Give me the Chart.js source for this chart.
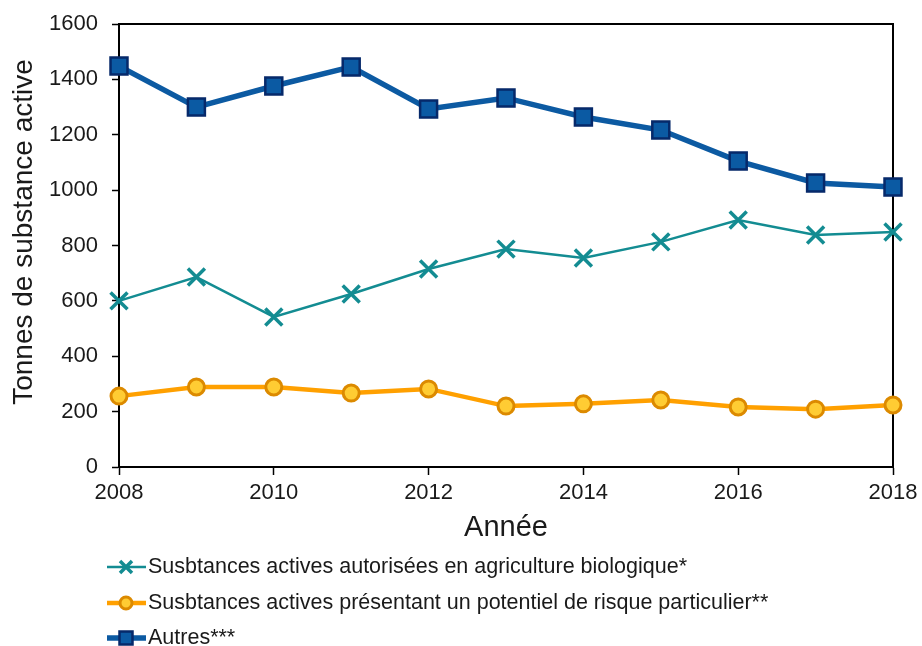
<!DOCTYPE html>
<html>
<head>
<meta charset="utf-8">
<script src="https://cdn.jsdelivr.net/npm/chart.js"></script>
<style>
html, body { margin: 0; padding: 0; background: #fff; }
#wrap { width: 922px; height: 646px; }
</style>
</head>
<body>
<div id="wrap"><canvas id="chart" width="922" height="646"></canvas></div>
<script>
// années et tonnages
const years = [2008, 2009, 2010, 2011, 2012, 2013, 2014, 2015, 2016, 2017, 2018];
const bio = [600, 686, 542, 625, 715, 787, 755, 813, 892, 838, 849];
const risque = [256, 289, 289, 267, 282, 220, 228, 242, 217, 209, 224];
const autres = [1448, 1300, 1376, 1445, 1293, 1333, 1264, 1217, 1105, 1026, 1011];
const seriesNames = [
  'Susbtances actives autorisées en agriculture biologique*',
  'Susbtances actives présentant un potentiel de risque particulier**',
  'Autres***'
];
const yTicks = [0, 200, 400, 600, 800, 1000, 1200, 1400, 1600];
const xTicks = [2008, 2010, 2012, 2014, 2016, 2018];

const FONT = 'Liberation Sans, Arial, sans-serif';
const TEXT = '#1a1a1a';

function toPoints(vals) {
  return years.map((yr, i) => ({ x: yr, y: vals[i] }));
}

// cadre haut + droite, titre vertical
const frame = {
  id: 'frame',
  beforeDatasetsDraw(chart) {
    const { ctx, chartArea: a } = chart;
    ctx.save();
    ctx.strokeStyle = '#000';
    ctx.lineWidth = 2;
    ctx.beginPath();
    ctx.moveTo(a.left, a.top);
    ctx.lineTo(a.right, a.top);
    ctx.lineTo(a.right, a.bottom);
    ctx.stroke();
    ctx.translate(24, 232);
    ctx.rotate(-Math.PI / 2);
    ctx.fillStyle = TEXT;
    ctx.font = '28px ' + FONT;
    ctx.textAlign = 'center';
    ctx.textBaseline = 'middle';
    ctx.fillText('Tonnes de substance active', 0, 0);
    ctx.restore();
  }
};

function drawMarker(ctx, style, x, y, r) {
  ctx.beginPath();
  if (style === 'rect') {
    ctx.rect(x - r, y - r, 2 * r, 2 * r);
    ctx.fill();
    ctx.stroke();
  } else if (style === 'circle') {
    ctx.arc(x, y, r, 0, Math.PI * 2);
    ctx.fill();
    ctx.stroke();
  } else {
    ctx.moveTo(x - r, y - r); ctx.lineTo(x + r, y + r);
    ctx.moveTo(x + r, y - r); ctx.lineTo(x - r, y + r);
    ctx.stroke();
  }
}

// légende verticale en bas à gauche
const sideLegend = {
  id: 'sideLegend',
  afterDraw(chart) {
    const ctx = chart.ctx;
    const rows = [567, 603, 638];
    ctx.save();
    chart.data.datasets.forEach((ds, i) => {
      const y = rows[i];
      ctx.strokeStyle = ds.borderColor;
      ctx.lineWidth = ds.borderWidth;
      ctx.beginPath();
      ctx.moveTo(107, y);
      ctx.lineTo(146, y);
      ctx.stroke();
      ctx.fillStyle = ds.pointBackgroundColor;
      ctx.strokeStyle = ds.pointBorderColor;
      ctx.lineWidth = ds.pointBorderWidth;
      drawMarker(ctx, ds.pointStyle, 126, y, ds.legendRadius);
      ctx.fillStyle = TEXT;
      ctx.font = '21.5px ' + FONT;
      ctx.textBaseline = 'middle';
      ctx.textAlign = 'left';
      ctx.fillText(seriesNames[i], 148, y);
    });
    ctx.restore();
  }
};

new Chart(document.getElementById('chart'), {
  type: 'line',
  data: {
    datasets: [
      {
        label: seriesNames[0],
        data: toPoints(bio),
        borderColor: '#138c92',
        borderWidth: 2.5,
        pointStyle: 'crossRot',
        pointRadius: 12,
        pointBorderWidth: 3.5,
        pointBorderColor: '#138c92',
        pointBackgroundColor: '#138c92',
        legendRadius: 6,
        clip: false,
        order: 3
      },
      {
        label: seriesNames[1],
        data: toPoints(risque),
        borderColor: '#ffa000',
        borderWidth: 4.5,
        pointStyle: 'circle',
        pointRadius: 8,
        pointBorderWidth: 3,
        pointBorderColor: '#dc8a00',
        pointBackgroundColor: '#ffcc33',
        legendRadius: 6,
        clip: false,
        order: 2
      },
      {
        label: seriesNames[2],
        data: toPoints(autres),
        borderColor: '#0c5aa2',
        borderWidth: 5.5,
        pointStyle: 'rect',
        pointRadius: 12,
        pointBorderWidth: 2.5,
        pointBorderColor: '#06296a',
        pointBackgroundColor: '#0b5aa3',
        legendRadius: 6.5,
        clip: false,
        order: 1
      }
    ]
  },
  options: {
    responsive: false,
    animation: false,
    layout: { padding: { top: 24, right: 29, bottom: 101, left: 45 } },
    plugins: {
      legend: { display: false },
      tooltip: { enabled: false }
    },
    scales: {
      x: {
        type: 'linear',
        min: 2008,
        max: 2018,
        afterBuildTicks: s => { s.ticks = xTicks.map(v => ({ value: v })); },
        afterFit: s => { s.height = 78; s.paddingLeft = 0; s.paddingRight = 0; },
        grid: { drawOnChartArea: false, drawTicks: true, tickLength: 8, tickWidth: 1.5, tickColor: '#000' },
        border: { color: '#000', width: 2 },
        ticks: { color: TEXT, font: { family: FONT, size: 22 }, padding: 5, maxRotation: 0, callback: v => String(v) },
        title: { display: true, text: 'Année', color: TEXT, font: { family: FONT, size: 29 }, padding: 0 }
      },
      y: {
        min: 0,
        max: 1600,
        afterBuildTicks: s => { s.ticks = yTicks.map(v => ({ value: v })); },
        afterFit: s => { s.width = 74; s.paddingTop = 0; s.paddingBottom = 0; },
        grid: { drawOnChartArea: false, drawTicks: true, tickLength: 7, tickWidth: 1.5, tickColor: '#000' },
        border: { color: '#000', width: 2 },
        ticks: { color: TEXT, font: { family: FONT, size: 22 }, padding: 14, callback: v => String(v) }
      }
    }
  },
  plugins: [frame, sideLegend]
});
</script>
</body>
</html>
